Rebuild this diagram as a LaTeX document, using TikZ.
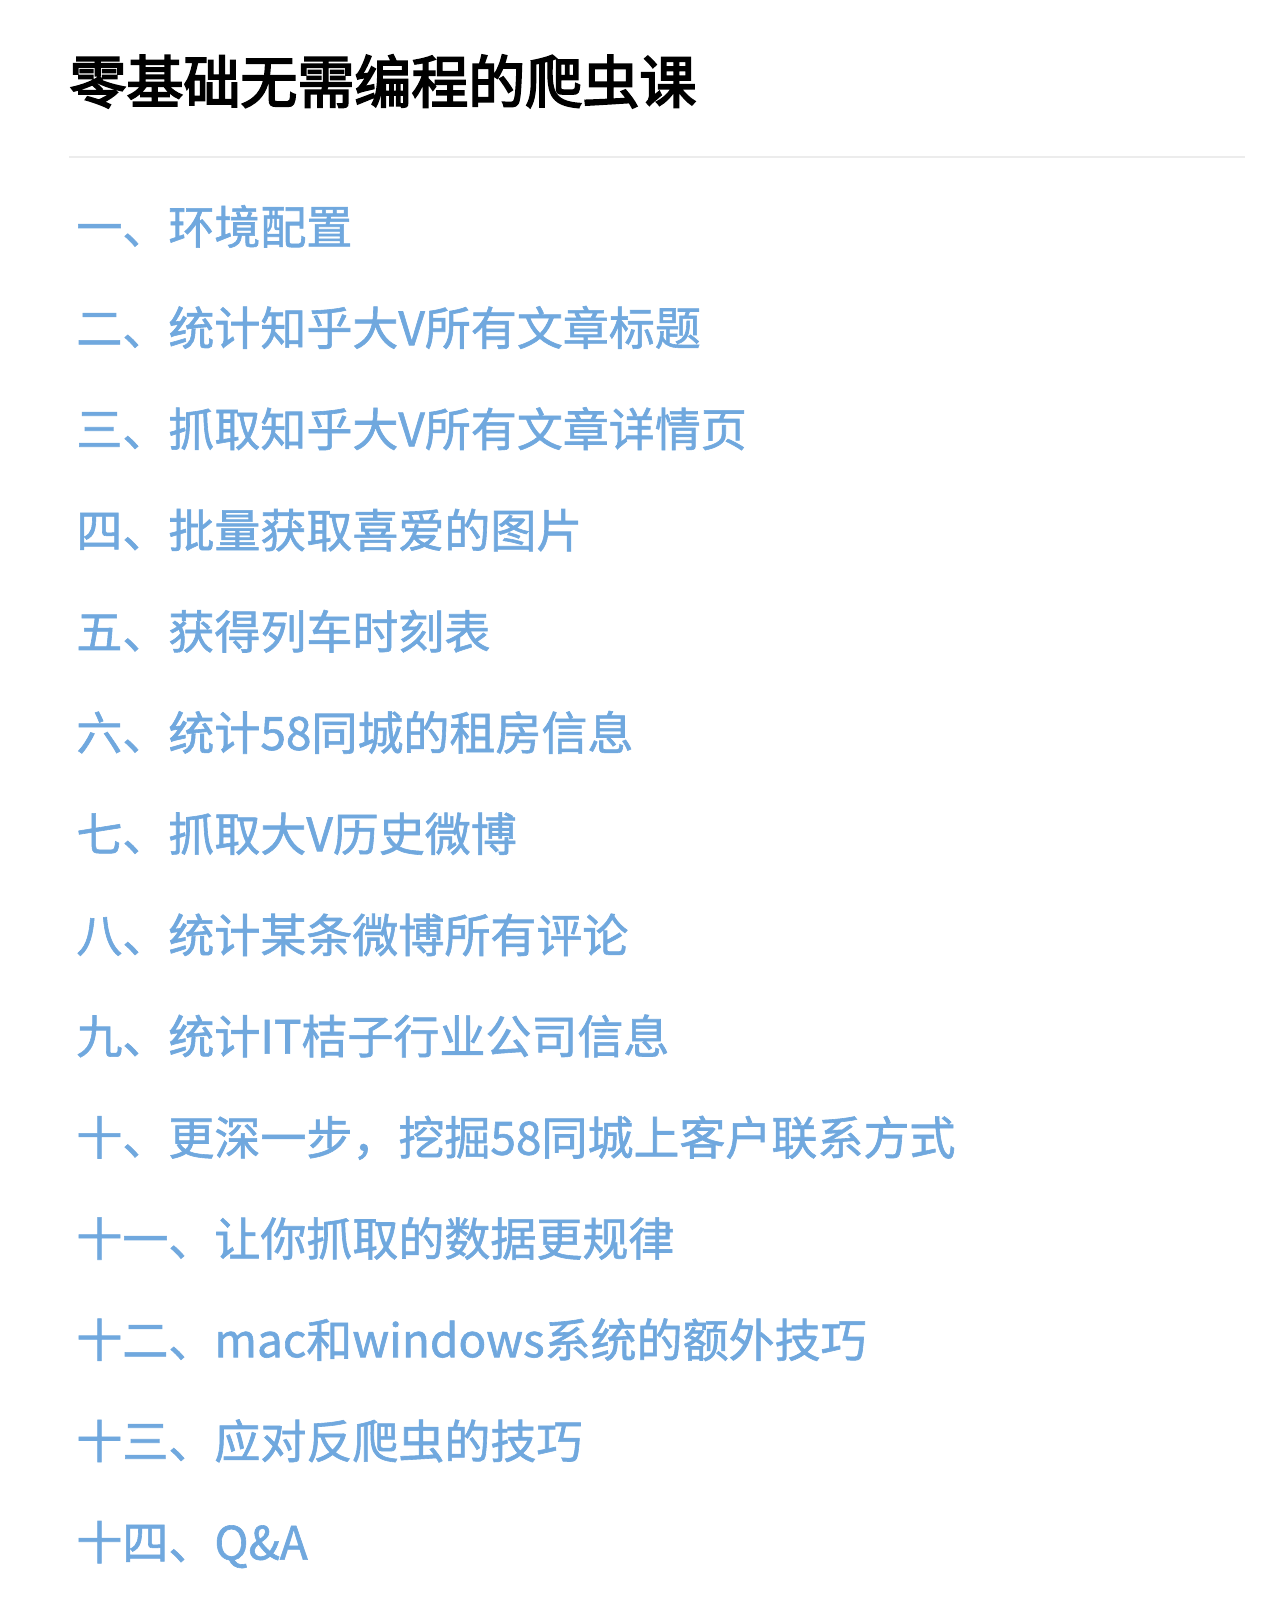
\documentclass[tikz,border=0pt]{standalone}
\usepackage{fontspec}
\newfontfamily\titlefont{Noto Sans CJK SC}[FakeBold=3.2]
\newfontfamily\itemfont{Noto Sans CJK SC}[FakeBold=1.3]
\definecolor{itemblue}{RGB}{112,168,222}
\definecolor{rulegray}{RGB}{236,236,236}
\begin{document}
\begin{tikzpicture}[x=0.5pt,y=-0.5pt,
  titlestyle/.style={anchor=base west,inner sep=0pt,font=\titlefont\fontsize{28.5pt}{28.5pt}\selectfont,text=black},
  itemstyle/.style={anchor=base west,inner sep=0pt,font=\itemfont\fontsize{23pt}{23pt}\selectfont,text=itemblue}]
\useasboundingbox[fill=white] (0,0) rectangle (1280,1608);
\node[titlestyle] (title) at (69,103) {零基础无需编程的爬虫课};
\coordinate (rl) at (69,157);
\coordinate (rr) at (1245,157);
\draw[rulegray,line width=1pt] (rl) -- (rr);
\foreach \t [count=\i] in {
  一、环境配置,
  二、统计知乎大V所有文章标题,
  三、抓取知乎大V所有文章详情页,
  四、批量获取喜爱的图片,
  五、获得列车时刻表,
  六、统计58同城的租房信息,
  七、抓取大V历史微博,
  八、统计某条微博所有评论,
  九、统计IT桔子行业公司信息,
  十、更深一步，挖掘58同城上客户联系方式,
  十一、让你抓取的数据更规律,
  十二、mac和windows系统的额外技巧,
  十三、应对反爬虫的技巧,
  十四、Q\&A}
  \node[itemstyle] (item\i) at (76,{244+(\i-1)*101.2}) {\t};
\end{tikzpicture}
\end{document}
